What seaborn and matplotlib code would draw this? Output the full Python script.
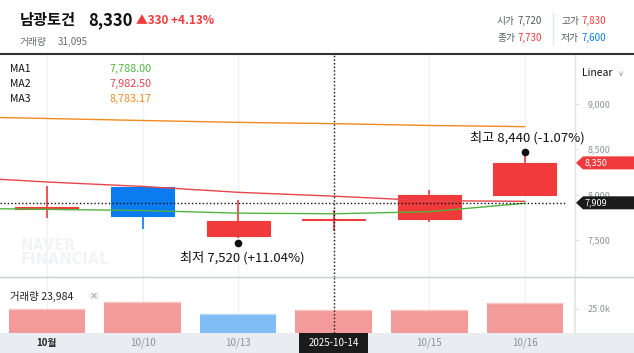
import numpy as np
import pandas as pd
import matplotlib
matplotlib.use("Agg")
import matplotlib.pyplot as plt
import matplotlib.transforms as mtransforms
from matplotlib.patches import Rectangle, Polygon, Circle
from matplotlib.lines import Line2D
import seaborn as sns

# ---------------- data ----------------
dates = ["10월", "10/10", "10/13", "10/14", "10/15", "10/16"]
open_ = [7840, 8080, 7540, 7720, 7725, 7990]
high = [8090, 8080, 7940, 7830, 8050, 8440]
low = [7745, 7620, 7520, 7600, 7700, 7990]
close = [7860, 7760, 7710, 7730, 8000, 8350]
volume = [25000, 32100, 19900, 23984, 23800, 31095]
volume_dir = ["up", "up", "down", "up", "up", "up"]

ma_index = [-1, 0, 1, 2, 3, 4, 5]
ma1 = [7850, 7837, 7824, 7795, 7788.00, 7811, 7904]
ma2 = [8200, 8139, 8090, 8025, 7982.50, 7932, 7926]
ma3 = [8862, 8840, 8818, 8797, 8783.17, 8763, 8750]
ma_names = ["MA1", "MA2", "MA3"]
ma_labels = ["7,788.00", "7,982.50", "8,783.17"]

y_ticks = [7500, 8000, 8500, 9000]
y_tick_labels = ["7,500", "8,000", "8,500", "9,000"]
vol_ticks = [25000]
vol_tick_labels = ["25.0k"]

crosshair_idx = 3
crosshair_price = 7909
last_price = 8350
high_idx, low_idx = 5, 2

# ---------------- style ----------------
sns.set_theme(style="white")
plt.rcParams['font.family'] = ['Noto Sans CJK KR', 'DejaVu Sans']

UP = "#f03a3c"
DOWN = "#0a7cf0"
VUP = "#f39a9a"
VDOWN = "#80bcf5"
MA_COLORS = ["#52b43f", "#e8454b", "#f28a1e"]
GRAY_TXT = "#8c919a"

W, H = 634, 353
fig = plt.figure(figsize=(W / 100, H / 100), dpi=100)
fig.patch.set_facecolor("white")


def fx(x):
    return x / W


def fy(y):
    return 1 - y / H


ax = fig.add_axes([0, fy(277), fx(575), (277 - 55) / H])
axv = fig.add_axes([0, fy(333), fx(575), (333 - 277) / H])

XMIN, XMAX = -0.4906, 5.524
YMIN, YMAX = 7090, 9541
x = np.arange(len(dates))

# ---------------- candles ----------------
cols = [UP if c >= o else DOWN for o, c in zip(open_, close)]
bottoms = [min(o, c) for o, c in zip(open_, close)]
heights = [max(abs(c - o), 1) for o, c in zip(open_, close)]
ax.vlines(x, low, high, colors=cols, lw=1.2, zorder=3)
ax.bar(x, heights, bottom=bottoms, width=0.66, color=cols,
       edgecolor=cols, linewidth=0.8, zorder=4)

# moving averages
for vals, c in zip([ma3, ma2, ma1], [MA_COLORS[2], MA_COLORS[1], MA_COLORS[0]]):
    sns.lineplot(x=ma_index, y=vals, ax=ax, color=c, lw=1.0, zorder=5,
                 legend=False)

ax.set_xlim(XMIN, XMAX)
ax.set_ylim(YMIN, YMAX)
ax.set_xlabel("")
ax.set_ylabel("")
ax.set_xticks(x)
ax.tick_params(axis="x", length=0, labelbottom=False)
ax.yaxis.tick_right()
ax.set_yticks(y_ticks, y_tick_labels)
ax.tick_params(axis="y", length=3, width=0.8, color="#dfe2e6",
               labelcolor=GRAY_TXT, labelsize=6.5, pad=6)
ax.grid(axis="x", color="#eff1f4", lw=1)
ax.grid(axis="y", visible=False)
for s in ["top", "left", "bottom"]:
    ax.spines[s].set_visible(False)
ax.spines["right"].set_color("#e3e6ea")
ax.spines["right"].set_linewidth(1)

# watermark
ax.text(0.035, 0.11, "NAVER\nFINANCIAL", transform=ax.transAxes,
        fontsize=10.5, fontweight="bold", color="#f2f3f6",
        family="DejaVu Sans", va="center", ha="left", linespacing=0.95,
        zorder=1)

# crosshair
ax.axvline(crosshair_idx, color="#111111", ls=(0, (1, 1.6)), lw=1, zorder=6)
ax.axhline(crosshair_price, color="#111111", ls=(0, (1, 1.6)), lw=1,
           xmax=0.985, zorder=6)

# high/low annotations
ax.plot([high_idx], [high[high_idx]], "o", color="#111111", ms=4.5, zorder=7,
        transform=ax.transData + mtransforms.ScaledTranslation(0, 3 / 100, fig.dpi_scale_trans))
ax.plot([low_idx], [low[low_idx]], "o", color="#111111", ms=4.5, zorder=7,
        transform=ax.transData + mtransforms.ScaledTranslation(0, -5 / 100, fig.dpi_scale_trans))
hi_pct = (last_price / high[high_idx] - 1) * 100
lo_pct = (last_price / low[low_idx] - 1) * 100
ax.annotate(f"최고 {high[high_idx]:,} ({hi_pct:+.2f}%)",
            xy=(high_idx, high[high_idx]), xytext=(2, 12.5),
            textcoords="offset points", ha="center", va="center",
            fontsize=9.5, color="#111111", annotation_clip=False, zorder=8)
ax.annotate(f"최저 {low[low_idx]:,} ({lo_pct:+.2f}%)",
            xy=(low_idx, low[low_idx]), xytext=(3, -14.5),
            textcoords="offset points", ha="center", va="center",
            fontsize=9.5, color="#111111", annotation_clip=False, zorder=8)

# MA legend
for i, (n, lab, c) in enumerate(zip(ma_names, ma_labels, MA_COLORS)):
    yy = 69 + i * 15
    fig.text(fx(10), fy(yy), n, fontsize=7.5, color="#111111", va="center")
    fig.text(fx(109), fy(yy), lab, fontsize=7.8, color=c, va="center")

# price tags on right axis
bt = mtransforms.blended_transform_factory(fig.transFigure, ax.transData)
upp = (YMAX - YMIN) / 222.0  # data units per pixel


def tag(price, text, color):
    h = 6.5 * upp
    verts = [(fx(576), price), (fx(583), price + h), (fx(634), price + h),
             (fx(634), price - h), (fx(583), price - h)]
    fig.patches.append(Polygon(verts, closed=True, transform=bt,
                               facecolor=color, edgecolor="none", zorder=10))
    fig.text(fx(585), price, text, transform=bt, fontsize=6.5,
             color="white", va="center", ha="left", zorder=11)


tag(last_price, f"{last_price:,}", UP)
tag(crosshair_price, f"{crosshair_price:,}", "#1b1b1b")

fig.text(fx(582), fy(73), "Linear", fontsize=7.5, color="#111111", va="center")
fig.text(fx(618), fy(73), "∨", fontsize=6, color="#9aa0a8", va="center",
         family="DejaVu Sans")

# ---------------- volume ----------------
vdf = pd.DataFrame({"date": dates, "volume": volume, "dir": volume_dir})
sns.barplot(data=vdf, x="date", y="volume", hue="dir",
            palette={"up": VUP, "down": VDOWN}, dodge=False, width=0.8,
            saturation=1, linewidth=0, ax=axv, legend=False, zorder=3)
vtop = ["#f8c4c4" if d == "up" else "#b5d7f8" for d in vdf["dir"]]
axv.hlines(volume, x - 0.4, x + 0.4, colors=vtop, lw=1, zorder=4)
axv.set_xlim(XMIN, XMAX)
axv.set_ylim(0, 57350)
axv.set_xlabel("")
axv.set_ylabel("")
axv.set_xticks(x)
axv.tick_params(axis="x", length=0, labelbottom=False)
axv.yaxis.tick_right()
axv.set_yticks(vol_ticks, vol_tick_labels)
axv.tick_params(axis="y", length=3, width=0.8, color="#dfe2e6",
                labelcolor=GRAY_TXT, labelsize=6.5, pad=6)
axv.grid(axis="x", color="#eff1f4", lw=1, zorder=0)
axv.grid(axis="y", visible=False)
axv.set_axisbelow(True)
for s in ["top", "left", "bottom"]:
    axv.spines[s].set_visible(False)
axv.spines["right"].set_color("#e3e6ea")
axv.axvline(crosshair_idx, color="#111111", ls=(0, (1, 1.6)), lw=1, zorder=6)

fig.text(fx(10), fy(296.5), f"거래량 {volume[crosshair_idx]:,}", fontsize=7.5,
         color="#222222", va="center")
fig.patches.append(Circle((fx(94), fy(296)), 6 / W, transform=fig.transFigure,
                          facecolor="#eef0f2", edgecolor="none"))
fig.text(fx(94), fy(296), "×", fontsize=7, color="#a0a5ad", va="center",
         ha="center", family="DejaVu Sans")

# ---------------- x axis band ----------------
fig.patches.append(Rectangle((0, 0), 1, fy(333), transform=fig.transFigure,
                             facecolor="#e9ecf1", edgecolor="none", zorder=0))
xt = mtransforms.blended_transform_factory(axv.transData, fig.transFigure)
for i, d in enumerate(dates):
    if i == crosshair_idx:
        continue
    if i == 0:
        fig.text(i, fy(343), d, transform=xt, fontsize=7, color="#222222",
                 fontweight="bold", ha="center", va="center")
    else:
        fig.text(i, fy(343), d, transform=xt, fontsize=7, color=GRAY_TXT,
                 ha="center", va="center")
fig.patches.append(Rectangle((fx(299), 0), fx(69), fy(333),
                             transform=fig.transFigure, facecolor="#1b1b1b",
                             edgecolor="none", zorder=5))
fig.text(crosshair_idx, fy(343), "2025-10-14", transform=xt, fontsize=7,
         color="white", ha="center", va="center", zorder=6)

# separators
fig.lines.append(Line2D([0, 1], [fy(277), fy(277)], transform=fig.transFigure,
                        color="#c9cdd3", lw=1))
fig.lines.append(Line2D([0, 1], [fy(54), fy(54)], transform=fig.transFigure,
                        color="#333333", lw=1.5))

# ---------------- header ----------------
fig.text(fx(20), fy(20), "남광토건", fontsize=11, fontweight="bold",
         color="#111111", va="center")
fig.text(fx(88), fy(20), "8,330", fontsize=12, fontweight="bold",
         color="#111111", va="center")
fig.text(fx(136), fy(20.5), "▲330 +4.13%", fontsize=8.5, fontweight="bold",
         color=UP, va="center")
fig.text(fx(20), fy(42), "거래량", fontsize=7, color="#666a70", va="center")
fig.text(fx(58), fy(42), "31,095", fontsize=7, color="#666a70", va="center")

fig.text(fx(497), fy(21), "시가", fontsize=7, color="#555a60", va="center")
fig.text(fx(518), fy(21), "7,720", fontsize=7, color="#555a60", va="center")
fig.text(fx(497), fy(38), "종가", fontsize=7, color="#555a60", va="center")
fig.text(fx(518), fy(38), "7,730", fontsize=7, color=UP, va="center")
fig.text(fx(561), fy(21), "고가", fontsize=7, color="#555a60", va="center")
fig.text(fx(582), fy(21), "7,830", fontsize=7, color=UP, va="center")
fig.text(fx(561), fy(38), "저가", fontsize=7, color="#555a60", va="center")
fig.text(fx(582), fy(38), "7,600", fontsize=7, color=DOWN, va="center")
fig.lines.append(Line2D([fx(553), fx(553)], [fy(13), fy(45)],
                        transform=fig.transFigure, color="#e3e6ea", lw=1))

fig.savefig("out.png", dpi=100)
